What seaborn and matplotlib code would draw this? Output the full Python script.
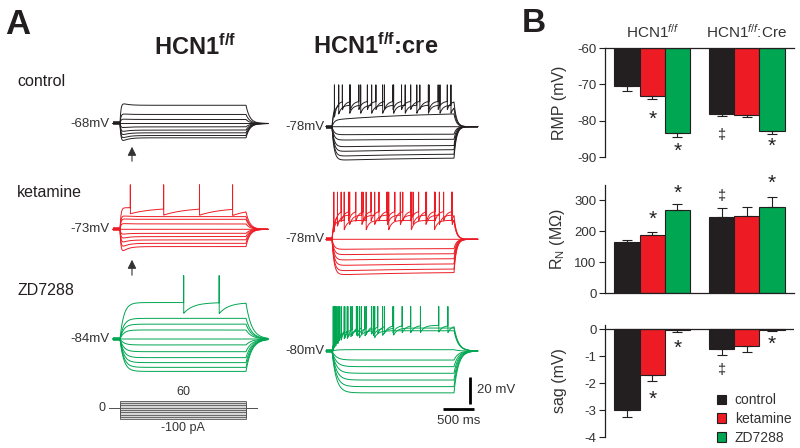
import numpy as np
import pandas as pd
import seaborn as sns
import matplotlib.pyplot as plt

W, H = 800, 448
INK = "#231f20"

# ---------------- panel B data ----------------
GENOTYPES = ["HCN1f/f", "HCN1f/f:Cre"]
GENOTYPE_LABELS = [r"HCN1$^{f/f}$", r"HCN1$^{f/f}$:Cre"]
TREATMENTS = ["control", "ketamine", "ZD7288"]
COLORS = ["#231f20", "#ed1c24", "#00a651"]

RMP_FF = [-70.5, -73.2, -83.5]
RMP_CRE = [-78.2, -78.4, -82.8]
RMP_ERR = [1.2, 0.9, 0.9, 0.5, 0.7, 0.9]
RMP_MARKS = ["", "*", "*", "‡", "", "*"]
RMP_MARK_Y = [None, -79.5, -88.5, -84.0, None, -87.2]

RN_FF = [165, 188, 269]
RN_CRE = [246, 250, 280]
RN_ERR = [8, 11, 20, 29, 30, 31]
RN_MARKS = ["", "*", "*", "‡", "", "*"]
RN_MARK_Y = [None, 238, 322, 314, None, 354]

SAG_FF = [-3.0, -1.71, -0.02]
SAG_CRE = [-0.75, -0.61, -0.02]
SAG_ERR = [0.25, 0.2, 0.1, 0.21, 0.25, 0.05]
SAG_MARKS = ["", "*", "*", "‡", "", "*"]
SAG_MARK_Y = [None, -2.6, -0.71, -1.52, None, -0.58]

# ---------------- panel A data (mV relative to rest) ----------------
STEP_MS = 2000
CURRENTS = [60, 40, 20, 0, -20, -40, -60, -80, -100]

FF_CTRL_LEVEL = [13.5, 6.7, 3.0, 0.0, -2.5, -4.9, -6.9, -8.9, -10.6]
FF_CTRL_ONSET = [16.0, 7.5, 3.5, 0.0, -3.5, -6.8, -9.6, -12.2, -14.8]
FF_CTRL_SPIKES = []

FF_KET_LEVEL = [16.0, 9.4, 7.4, 4.0, 0.0, -3.0, -5.4, -7.9, -10.4, -12.8]
FF_KET_ONSET = [16.0, 10.5, 8.0, 4.5, 0.0, -4.2, -7.6, -11.0, -14.8, -19.0]
FF_KET_SPIKES = [[164, 693, 1262, 1787]]

FF_ZD_LEVEL = [27.0, 15.3, 11.0, 6.7, 0.0, -4.4, -9.4, -13.8, -17.5, -21.0, -24.0]
FF_ZD_ONSET = FF_ZD_LEVEL
FF_ZD_SPIKES = [[1011, 1574]]

CRE_CTRL_LEVEL = [19.0, 16.0, 11.0, 0.0, -5.4, -9.1, -13.6, -16.5, -19.8, -22.7]
CRE_CTRL_ONSET = [19.0, 16.0, 5.0, 0.0, -6.0, -10.0, -15.0, -18.5, -22.0, -25.0]
CRE_CTRL_SPIKES = [
    [40, 170, 300, 440, 580, 720, 860, 1000, 1140, 1290, 1440, 1590, 1740, 1890],
    [110, 290, 470, 650, 830, 1010, 1200, 1390, 1580, 1770, 1950],
]

CRE_KET_LEVEL = [21.0, 18.0, 14.0, 0.0, -6.7, -10.4, -14.0, -17.8, -21.5, -24.0]
CRE_KET_ONSET = [21.0, 18.0, 14.0, 0.0, -7.5, -11.5, -15.5, -19.5, -23.5, -26.5]
CRE_KET_SPIKES = [
    [30, 150, 270, 390, 510, 640, 770, 900, 1030, 1160, 1290, 1420, 1550, 1690, 1830, 1960],
    [90, 290, 490, 700, 910, 1120, 1330, 1540, 1760, 1970],
    [200, 560, 930, 1300, 1680],
]

CRE_ZD_LEVEL = [19.0, 17.0, 15.0, 1.0, -6.7, -11.6, -16.5, -21.5, -26.4, -31.0]
CRE_ZD_ONSET = CRE_ZD_LEVEL
CRE_ZD_SPIKES = [
    [20, 60, 100, 150, 200, 260, 330, 400, 480, 560, 650, 750, 860, 1000, 1150, 1290, 1450, 1750, 1900],
    [40, 120, 210, 310, 420, 540, 680, 830, 1010],
    [80, 250, 450, 700],
]

# layout / shape constants
MV_PX = 1.35                 # px per mV
COL1_PX_MS, COL2_PX_MS = 0.063, 0.061
COL1_ONSET_PX, COL2_ONSET_PX = 120, 332
# (tau_on, tau_h, tau_off, spike top, ahp, tau_ahp)
SHAPE_FF_CTRL = (15, 90, 60, 0, 0, 1)
SHAPE_FF_KET = (15, 90, 60, 33, 4.5, 350)
SHAPE_FF_ZD = (60, 1, 90, 47, 8, 150)
SHAPE_CRE_CTRL = (35, 1500, 40, 31, 6, 50)
SHAPE_CRE_KET = (35, 1500, 40, 35, 7, 50)
SHAPE_CRE_ZD = (70, 1500, 70, 33, 5, 60)

sns.set_theme(style="ticks")
plt.rcParams["font.family"] = ["Liberation Sans", "DejaVu Sans"]
plt.rcParams["mathtext.fontset"] = "custom"
plt.rcParams["mathtext.rm"] = "Liberation Sans"
plt.rcParams["mathtext.it"] = "Liberation Sans:italic"
plt.rcParams["mathtext.bf"] = "Liberation Sans:bold"
plt.rcParams["text.color"] = INK
plt.rcParams["axes.unicode_minus"] = False


def frac(x0, y0, x1, y1):
    return [x0 / W, 1 - y1 / H, (x1 - x0) / W, (y1 - y0) / H]


fig = plt.figure(figsize=(8, 4.48), dpi=100)


# ---------------- panel A ----------------
def draw_block(ax, t, base_px, level, onset, spikes, shape, color, label, label_t):
    tau_on, tau_h, tau_off, top, ahp, tau_ahp = shape
    y0 = -base_px / MV_PX
    on = (t >= 0) & (t < STEP_MS)
    off = t >= STEP_MS
    for i, (lv, pk) in enumerate(zip(level, onset)):
        v = np.zeros_like(t)
        ts = t[on]
        v[on] = (1 - np.exp(-ts / tau_on)) * (lv + (pk - lv) * np.exp(-ts / tau_h))
        sp = spikes[i] if i < len(spikes) else []
        for s in sp:
            after = on & (t > s)
            v[after] -= ahp * np.exp(-(t[after] - s) / tau_ahp)
        for s in sp:
            v[t == s] = top
        v_end = v[on][-1]
        v[off] = v_end * np.exp(-(t[off] - STEP_MS) / tau_off)
        ax.plot(t, y0 + v, color=color, lw=0.7)
    pre = t <= 0
    ax.plot(t[pre], np.full(pre.sum(), y0), color=color, lw=2.6, solid_capstyle="butt")
    ax.text(label_t, y0, label, ha="right", va="center", fontsize=9.5, color="#333333")


ax1 = fig.add_axes(frac(0, 0, 290, H))
ax1.set_xlim(-COL1_ONSET_PX / COL1_PX_MS, (290 - COL1_ONSET_PX) / COL1_PX_MS)
ax1.set_ylim(-H / MV_PX, 0)
ax1.axis("off")
ax2 = fig.add_axes(frac(290, 0, 520, H))
ax2.set_xlim((290 - COL2_ONSET_PX) / COL2_PX_MS, (520 - COL2_ONSET_PX) / COL2_PX_MS)
ax2.set_ylim(-H / MV_PX, 0)
ax2.axis("off")

t1 = np.arange(-110, 2350, 1.0)
t2 = np.arange(-95, 2390, 1.0)
draw_block(ax1, t1, 123.5, FF_CTRL_LEVEL, FF_CTRL_ONSET, FF_CTRL_SPIKES, SHAPE_FF_CTRL, COLORS[0], "-68mV", -160)
draw_block(ax1, t1, 229.3, FF_KET_LEVEL, FF_KET_ONSET, FF_KET_SPIKES, SHAPE_FF_KET, COLORS[1], "-73mV", -160)
draw_block(ax1, t1, 339.0, FF_ZD_LEVEL, FF_ZD_ONSET, FF_ZD_SPIKES, SHAPE_FF_ZD, COLORS[2], "-84mV", -160)
draw_block(ax2, t2, 126.7, CRE_CTRL_LEVEL, CRE_CTRL_ONSET, CRE_CTRL_SPIKES, SHAPE_CRE_CTRL, COLORS[0], "-78mV", -120)
draw_block(ax2, t2, 239.3, CRE_KET_LEVEL, CRE_KET_ONSET, CRE_KET_SPIKES, SHAPE_CRE_KET, COLORS[1], "-78mV", -120)
draw_block(ax2, t2, 351.0, CRE_ZD_LEVEL, CRE_ZD_ONSET, CRE_ZD_SPIKES, SHAPE_CRE_ZD, COLORS[2], "-80mV", -130)

# arrows marking the sag
for head_px, tail_px in [(144, 164), (257, 278)]:
    ax1.annotate("", xy=(190, -head_px / MV_PX), xytext=(190, -tail_px / MV_PX),
                 arrowprops=dict(arrowstyle="-|>", color="#333333", lw=0.8, mutation_scale=13))

# scale bars
SCALE_MS, SCALE_MV = 500, 20
sb_y = -409 / MV_PX
ax2.plot([1820, 1820 + SCALE_MS], [sb_y, sb_y], color="black", lw=2, solid_capstyle="butt")
ax2.plot([2262, 2262], [-404 / MV_PX, -404 / MV_PX + SCALE_MV], color="black", lw=2, solid_capstyle="butt")
ax2.text(2377, -390 / MV_PX, f"{SCALE_MV} mV", ha="left", va="center", fontsize=9.5, color="#333333")
ax2.text(2070, -421 / MV_PX, f"{SCALE_MS} ms", ha="center", va="center", fontsize=9.5, color="#333333")

# current step protocol
axp = fig.add_axes(frac(100, 390, 270, 430))
axp.set_xlim((100 - COL1_ONSET_PX) / COL1_PX_MS, (270 - COL1_ONSET_PX) / COL1_PX_MS)
axp.set_ylim(-(430 - 407.7) / 0.1144, (407.7 - 390) / 0.1144)
axp.axis("off")
axp.fill_between([0, STEP_MS], min(CURRENTS), max(CURRENTS), color="#d6d6d6", lw=0)
for c in CURRENTS:
    axp.plot([-175, 0, 0, STEP_MS, STEP_MS, 2175], [0, 0, c, c, 0, 0], color="#555555", lw=0.6)
axp.text(1000, max(CURRENTS) + 25, str(max(CURRENTS)), ha="center", va="bottom", fontsize=9, color="#333333")
axp.text(1000, min(CURRENTS) - 25, f"{min(CURRENTS)} pA", ha="center", va="top", fontsize=9, color="#333333")
axp.text(-230, 0, "0", ha="right", va="center", fontsize=9, color="#333333")

# panel A text
fig.text(5 / W, 1 - 8 / H, "A", fontsize=25, fontweight="bold", va="top", ha="left")
fig.text(195 / W, 1 - 47 / H, r"HCN1$^{\mathbf{f/f}}$", fontsize=17, fontweight="bold", ha="center", va="center")
fig.text(376 / W, 1 - 46 / H, r"HCN1$^{\mathbf{f/f}}$:cre", fontsize=17, fontweight="bold", ha="center", va="center")
fig.text(17 / W, 1 - 82 / H, "control", fontsize=11.5, va="center")
fig.text(17 / W, 1 - 192 / H, "ketamine", fontsize=11.5, va="center")
fig.text(17 / W, 1 - 290 / H, "ZD7288", fontsize=11.5, va="center")
fig.text(522 / W, 1 - 8 / H, "B", fontsize=24, fontweight="bold", va="top", ha="left")


# ---------------- panel B ----------------
def bar_panel(ax, ff, cre, errs, marks, mark_y, ref=0.0, legend=False):
    df = pd.DataFrame({
        "genotype": [g for g in GENOTYPES for _ in TREATMENTS],
        "treatment": TREATMENTS * 2,
        "value": list(ff) + list(cre),
    })
    df["height"] = df["value"] - ref
    extra = {"bottom": ref} if ref else {}
    sns.barplot(data=df, x="genotype", y="height", hue="treatment", hue_order=TREATMENTS,
                palette=COLORS, saturation=1, errorbar=None, edgecolor=INK, linewidth=0.8,
                legend=legend, ax=ax, **extra)
    bars = sorted([p for p in ax.patches if abs(p.get_width() - 0.8 / 3) < 1e-6], key=lambda p: p.get_x())
    for p, v, e, m, my in zip(bars, df["value"], errs, marks, mark_y):
        x = p.get_x() + p.get_width() / 2
        yerr = [[e], [0]] if v < ref else [[0], [e]]
        ax.errorbar(x, v, yerr=yerr, fmt="none", ecolor=INK, elinewidth=0.8, capsize=3.5, capthick=0.8)
        if m:
            ax.text(x, my, m, ha="center", va="center", fontsize=15 if m == "*" else 10.5, clip_on=False)
    ax.set_xlabel("")
    ax.set_xlim(-0.5, 1.5)
    ax.tick_params(axis="y", length=4, width=0.8, labelsize=9.5, labelcolor="#333333", color=INK, pad=2)
    ax.tick_params(axis="x", length=0)
    for s in ax.spines.values():
        s.set_linewidth(0.9)
        s.set_color(INK)
    ax.yaxis.set_label_coords(-0.2, 0.5)


ax_rmp = fig.add_axes(frac(605, 48, 794, 157))
bar_panel(ax_rmp, RMP_FF, RMP_CRE, RMP_ERR, RMP_MARKS, RMP_MARK_Y, ref=-60.0)
ax_rmp.set_ylim(-90, -60)
ax_rmp.set_yticks([-60, -70, -80, -90])
ax_rmp.set_ylabel("RMP (mV)", fontsize=11.5, color="#333333")
ax_rmp.spines[["bottom", "right"]].set_visible(False)
ax_rmp.xaxis.tick_top()
ax_rmp.set_xticks([0, 1])
ax_rmp.set_xticklabels(GENOTYPE_LABELS, fontsize=11, color="#333333")
ax_rmp.tick_params(axis="x", length=0, pad=5)

ax_rn = fig.add_axes(frac(605, 185, 794, 293))
bar_panel(ax_rn, RN_FF, RN_CRE, RN_ERR, RN_MARKS, RN_MARK_Y)
ax_rn.set_ylim(0, 350)
ax_rn.set_yticks([0, 100, 200, 300])
ax_rn.set_ylabel(r"R$_\mathrm{N}$ (MΩ)", fontsize=11.5, color="#333333")
ax_rn.spines[["top", "right"]].set_visible(False)
ax_rn.set_xticklabels([])

ax_sag = fig.add_axes(frac(605, 325, 794, 437))
bar_panel(ax_sag, SAG_FF, SAG_CRE, SAG_ERR, SAG_MARKS, SAG_MARK_Y, legend=True)
ax_sag.set_ylim(-4, 0.15)
ax_sag.set_yticks([0, -1, -2, -3, -4])
ax_sag.axhline(0, color=INK, lw=0.9)
ax_sag.set_ylabel("sag (mV)", fontsize=11.5, color="#333333")
ax_sag.spines[["top", "right", "bottom"]].set_visible(False)
ax_sag.set_xticklabels([])
old = ax_sag.get_legend()
handles = old.legend_handles
labels = [t.get_text() for t in old.texts]
for h in handles:
    h.set_edgecolor(INK)
    h.set_linewidth(0.8)
ax_sag.legend(handles, labels, loc="lower left", bbox_to_anchor=(0.595, -0.07), frameon=False,
              fontsize=10, handlelength=0.65, handleheight=0.65, handletextpad=0.6,
              labelspacing=0.35, borderpad=0, borderaxespad=0, labelcolor="#333333")

fig.savefig("out.png", dpi=100)
